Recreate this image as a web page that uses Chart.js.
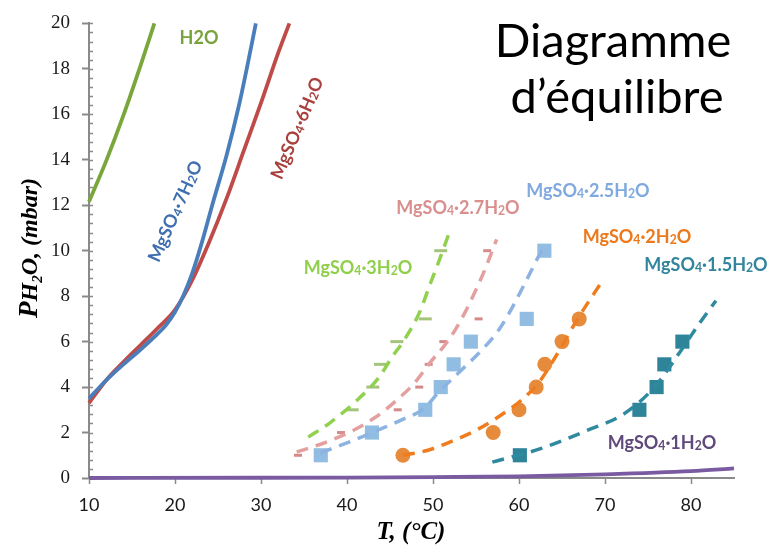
<!DOCTYPE html>
<html>
<head>
<meta charset="utf-8">
<script src="https://cdn.jsdelivr.net/npm/chart.js@4.4.1/dist/chart.umd.min.js"></script>
<style>
  html, body { margin: 0; padding: 0; background: #fff; }
  #wrap { width: 772px; height: 546px; }
</style>
</head>
<body>
<div id="wrap"><canvas id="myChart"></canvas></div>
<script>
// axis ticks
const tempTicks = [10, 20, 30, 40, 50, 60, 70, 80];
const pressTicks = [0, 2, 4, 6, 8, 10, 12, 14, 16, 18, 20];

// solid curves (T in °C, P in mbar)
const h2oT = [10, 12, 14, 16, 17.6];
const h2oP = [12.15, 13.95, 15.95, 18.15, 20];
const heptaT = [10, 12, 14, 16, 18, 19, 20, 21, 22, 23, 24.4, 26, 27.5, 28.5, 29.4];
const heptaP = [3.5, 4.3, 5.0, 5.65, 6.35, 6.75, 7.3, 8.05, 9.0, 10.2, 12.1, 14.2, 16.5, 18.3, 20];
const hexaT = [10, 12, 14, 16, 18, 20, 22, 24, 26, 28, 30, 32, 33.3];
const hexaP = [3.3, 4.3, 5.1, 5.85, 6.6, 7.4, 8.7, 10.4, 12.3, 14.4, 16.5, 18.7, 20];
const monoT = [10, 30, 40, 50, 60, 70, 80, 85];
const monoP = [0, 0.01, 0.02, 0.04, 0.07, 0.16, 0.3, 0.42];

// dashed fits
const triFitT = [35.5, 38.1, 41.1, 43.7, 45.2, 46.7, 48.5, 49.5, 50.6, 51.8];
const triFitP = [1.8, 2.45, 3.4, 4.42, 5.3, 6.1, 7.34, 8.36, 9.45, 10.7];
const p27FitT = [34.15, 37.6, 40.7, 43.3, 45.8, 47.9, 49.5, 52.0, 53.6, 54.9, 56.1, 57.4];
const p27FitP = [1.14, 1.58, 2.09, 2.67, 3.43, 4.2, 5.0, 6.17, 7.2, 8.2, 9.23, 10.5];
const p25FitT = [36.9, 40.7, 43.5, 46.6, 48.9, 50.8, 53.2, 56.1, 57.8, 59.4, 60.9, 62.5, 63.0];
const p25FitP = [1.1, 1.65, 2.09, 2.6, 3.04, 3.84, 4.71, 5.8, 6.6, 7.63, 8.73, 9.9, 10.2];
const diFitT = [46.5, 49.3, 52.4, 55.1, 57.8, 60.2, 62.3, 64.2, 66.9, 69.7];
const diFitP = [1.0, 1.21, 1.65, 2.12, 2.74, 3.4, 4.2, 5.3, 7.05, 8.68];
const sesquiFitT = [56.9, 62.5, 67.9, 72.2, 75.7, 78.8, 80.9, 82.9];
const sesquiFitP = [0.7, 1.29, 2.09, 2.82, 3.98, 5.59, 6.76, 7.8];

// measured points
const triPtT = [40.6, 43.0, 43.9, 45.8, 49.1, 50.9];
const triPtP = [3, 4, 5, 6, 7, 10];
const p27PtT = [34.3, 39.3, 45.9, 48.4, 49.5, 51.2, 55.3, 56.3];
const p27PtP = [1, 2, 3, 4, 5, 6, 7, 10];
const p25PtT = [36.95, 42.9, 49.1, 50.9, 52.4, 54.4, 60.9, 62.95];
const p25PtP = [1, 2, 3, 4, 5, 6, 7, 10];
const diPtT = [46.5, 57.0, 60.0, 62.0, 63.0, 65.0, 67.0];
const diPtP = [1, 2, 3, 4, 5, 6, 7];
const sesquiPtT = [60.1, 74.0, 76.0, 76.9, 79.0];
const sesquiPtP = [1, 3, 4, 5, 6];

function pts(xs, ys) {
    return xs.map((x, i) => ({ x: x, y: ys[i] }));
}

function curve(xs, ys, color, dashed) {
    return {
        data: pts(xs, ys),
        showLine: true,
        borderColor: color,
        borderWidth: dashed ? 3.5 : 3.8,
        borderDash: dashed ? [12, 8] : [],
        pointRadius: 0,
        cubicInterpolationMode: 'monotone',
        clip: false
    };
}

function marks(xs, ys, style, radius, fill, border, bw) {
    return {
        data: pts(xs, ys),
        showLine: false,
        pointStyle: style,
        pointRadius: radius,
        pointBackgroundColor: fill,
        pointBorderColor: border,
        pointBorderWidth: bw,
        clip: false
    };
}

// draw a formula with small digits after letters (MgSO4, H2O)
function drawChem(ctx, txt, x, y, size, color, angle, plain) {
    const parts = [];
    for (let i = 0; i < txt.length; i++) {
        const c = txt[i];
        const sub = !plain && /[0-9]/.test(c) && i > 0 && /[A-Za-z]/.test(txt[i - 1]);
        const last = parts[parts.length - 1];
        if (last && last.sub === sub) last.t += c;
        else parts.push({ t: c, sub: sub });
    }
    ctx.save();
    ctx.translate(x, y);
    ctx.rotate(angle * Math.PI / 180);
    ctx.fillStyle = color;
    ctx.textBaseline = 'alphabetic';
    ctx.textAlign = 'left';
    let w = 0;
    parts.forEach(p => {
        ctx.font = 'bold ' + (p.sub ? size * 0.68 : size) + 'px Lato';
        p.w = ctx.measureText(p.t).width;
        w += p.w;
    });
    let cx = -w / 2;
    parts.forEach(p => {
        ctx.font = 'bold ' + (p.sub ? size * 0.68 : size) + 'px Lato';
        ctx.fillText(p.t, cx, size * 0.35 + (p.sub ? 1 : 0));
        cx += p.w;
    });
    ctx.restore();
}

const labels = [
    { t: 'H2O', x: 199, y: 38, c: '#77a33a', a: 0, s: 18, plain: true },
    { t: 'MgSO4·7H2O', x: 175, y: 211, c: '#3f6fb0', a: -66, s: 18 },
    { t: 'MgSO4·6H2O', x: 297, y: 128, c: '#a8403d', a: -67, s: 18 },
    { t: 'MgSO4·3H2O', x: 358, y: 268, c: '#8fcf4c', a: 0, s: 18 },
    { t: 'MgSO4·2.7H2O', x: 458, y: 208, c: '#d98f8d', a: 0, s: 18 },
    { t: 'MgSO4·2.5H2O', x: 588, y: 191, c: '#7fa9df', a: 0, s: 18 },
    { t: 'MgSO4·2H2O', x: 637, y: 237, c: '#ec7a1c', a: 0, s: 18 },
    { t: 'MgSO4·1.5H2O', x: 706, y: 265, c: '#31859c', a: 0, s: 18 },
    { t: 'MgSO4·1H2O', x: 662, y: 443, c: '#604a7b', a: 0, s: 18 }
];

const decor = {
    id: 'decor',
    beforeDatasetsDraw(chart) {
        const ctx = chart.ctx;
        const ys = chart.scales.y;
        const xAxis = ys.right;
        ctx.save();
        ctx.strokeStyle = '#8a8a8a';
        ctx.lineWidth = 1.5;
        for (let i = 0; i <= 50; i++) {
            const py = Math.round(ys.getPixelForValue(i * 0.4)) + 0.5;
            ctx.beginPath();
            ctx.moveTo(xAxis - 1, py);
            ctx.lineTo(xAxis + 4, py);
            ctx.stroke();
        }
        ctx.restore();
    },
    afterDraw(chart) {
        const ctx = chart.ctx;
        ctx.save();
        // title
        ctx.fillStyle = '#000';
        ctx.textAlign = 'center';
        ctx.textBaseline = 'alphabetic';
        ctx.font = '47px Lato';
        ctx.fillText('Diagramme', 613, 57);
        ctx.fillText('d’équilibre', 617, 113);

        // x axis title
        ctx.font = 'bold italic 25px "Liberation Serif"';
        ctx.fillText('T, (°C)', 411, 539);

        // y axis title, rotated
        ctx.translate(37, 248);
        ctx.rotate(-Math.PI / 2);
        const parts = [
            { t: 'P', f: 'bold italic 27px "Liberation Serif"', dy: 0 },
            { t: 'H', f: 'bold italic 24px "Liberation Serif"', dy: 0 },
            { t: '2', f: 'bold italic 15px "Liberation Serif"', dy: 5 },
            { t: 'O, (mbar)', f: 'bold italic 24px "Liberation Serif"', dy: 0 }
        ];
        let w = 0;
        parts.forEach(p => { ctx.font = p.f; p.w = ctx.measureText(p.t).width; w += p.w; });
        let cx = -w / 2;
        ctx.textAlign = 'left';
        parts.forEach(p => { ctx.font = p.f; ctx.fillText(p.t, cx, p.dy); cx += p.w; });
        ctx.restore();

        labels.forEach(l => drawChem(ctx, l.t, l.x, l.y, l.s, l.c, l.a, l.plain));
    }
};

const ctx = document.getElementById('myChart');

new Chart(ctx, {
    type: 'scatter',
    data: {
        datasets: [
            curve(monoT, monoP, '#7a5ba2', false),
            curve(h2oT, h2oP, '#7aa63c', false),
            curve(heptaT, heptaP, '#4a7ebb', false),
            curve(hexaT, hexaP, '#be4b48', false),
            curve(triFitT, triFitP, '#92d050', true),
            curve(p27FitT, p27FitP, '#e3a09e', true),
            curve(p25FitT, p25FitP, '#8db3e2', true),
            curve(diFitT, diFitP, '#ef7d1f', true),
            curve(sesquiFitT, sesquiFitP, '#2f8aa0', true),
            marks(triPtT, triPtP, 'line', 6.5, '#a3c47a', '#a3c47a', 3),
            marks(p27PtT, p27PtP, 'line', 4, '#d48a88', '#d48a88', 3),
            marks(p25PtT, p25PtP, 'rect', 10, 'rgba(125,178,220,0.85)', 'rgba(125,178,220,0.85)', 0),
            marks(diPtT, diPtP, 'circle', 7.5, '#e68b3c', '#e68b3c', 0),
            marks(sesquiPtT, sesquiPtP, 'rect', 10, '#2e8499', '#2e8499', 0)
        ]
    },
    options: {
        responsive: true,
        maintainAspectRatio: false,
        devicePixelRatio: 1,
        animation: false,
        layout: { padding: { top: 20, right: 38, left: 0, bottom: 0 } },
        plugins: { legend: { display: false }, tooltip: { enabled: false } },
        scales: {
            x: {
                type: 'linear',
                min: 10,
                max: 85,
                afterFit: s => { s.height = 68; },
                afterBuildTicks: s => { s.ticks = tempTicks.map(v => ({ value: v })); },
                ticks: {
                    font: { family: 'Lato', size: 18 },
                    color: '#1a1a1a',
                    padding: 10
                },
                grid: { drawOnChartArea: false, tickLength: 6, tickColor: '#8a8a8a', tickWidth: 1.5 },
                border: { color: '#8a8a8a', width: 2 }
            },
            y: {
                min: 0,
                max: 20,
                afterFit: s => { s.width = 89; },
                afterBuildTicks: s => { s.ticks = pressTicks.map(v => ({ value: v })); },
                ticks: {
                    font: { family: 'Liberation Serif', size: 19 },
                    color: '#1a1a1a',
                    padding: 12
                },
                grid: { drawOnChartArea: false, tickLength: 7, tickColor: '#8a8a8a', tickWidth: 2 },
                border: { color: '#8a8a8a', width: 2 }
            }
        }
    },
    plugins: [decor]
});
</script>
</body>
</html>
